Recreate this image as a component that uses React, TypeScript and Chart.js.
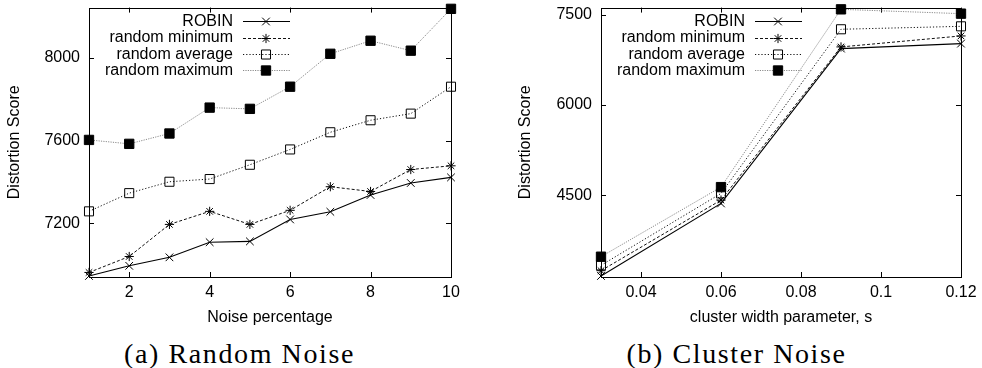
import React, { useEffect, useRef } from 'react';
import { Chart, registerables } from 'chart.js';

Chart.register(...registerables);
Chart.defaults.color = '#000';

// ---------- Data: (a) Random Noise ----------
const noisePct = [1, 2, 3, 4, 5, 6, 7, 8, 9, 10];
const robinA = [6946, 6995, 7036, 7109, 7113, 7219, 7256, 7337, 7395, 7422];
const minA = [6963, 7040, 7195, 7258, 7195, 7263, 7377, 7354, 7460, 7478];
const avgA = [7258, 7346, 7401, 7414, 7483, 7557, 7640, 7698, 7730, 7860];
const maxA = [7603, 7584, 7634, 7759, 7753, 7860, 8019, 8082, 8034, 8236];
const xTicksA = [2, 4, 6, 8, 10];
const yTicksA = [7200, 7600, 8000];

// ---------- Data: (b) Cluster Noise ----------
const clusterWidth = [0.03, 0.06, 0.09, 0.12];
const robinB = [3153, 4361, 6940, 7023];
const minB = [3241, 4417, 6968, 7151];
const avgB = [3330, 4528, 7262, 7311];
const maxB = [3474, 4633, 7594, 7522];
const xTicksB = [0.04, 0.06, 0.08, 0.1, 0.12];
const yTicksB = [4500, 6000, 7500];

const seriesNames = ['ROBIN', 'random minimum', 'random average', 'random maximum'];

const FONT = "'Liberation Sans', Arial, Helvetica, sans-serif";

const styles = [
  { color: '#000', dash: [] as number[], point: 'crossRot', radius: 5.4, fill: 'rgba(0,0,0,0)', pborder: '#000', lw: 1.1 },
  { color: '#111', dash: [3, 2], point: 'star', radius: 4.6, fill: 'rgba(0,0,0,0)', pborder: '#000', lw: 1 },
  { color: '#111', dash: [1.2, 2], point: 'rect', radius: 6.4, fill: 'rgba(0,0,0,0)', pborder: '#000', lw: 1 },
  { color: '#8a8a8a', dash: [1.2, 1.2], point: 'rect', radius: 6.6, fill: '#000', pborder: '#000', lw: 1 },
];

function drawMarker(ctx: CanvasRenderingContext2D, kind: string, x: number, y: number, r: number, fill: string, border: string) {
  ctx.save();
  ctx.setLineDash([]);
  ctx.strokeStyle = border;
  ctx.lineWidth = 1;
  ctx.beginPath();
  if (kind === 'rect') {
    const s = Math.SQRT1_2 * r;
    ctx.rect(x - s, y - s, 2 * s, 2 * s);
    ctx.fillStyle = fill;
    ctx.fill();
    ctx.stroke();
  } else if (kind === 'crossRot') {
    const d = Math.SQRT1_2 * r;
    ctx.moveTo(x - d, y - d); ctx.lineTo(x + d, y + d);
    ctx.moveTo(x - d, y + d); ctx.lineTo(x + d, y - d);
    ctx.stroke();
  } else if (kind === 'star') {
    const d = Math.SQRT1_2 * r;
    ctx.moveTo(x - r, y); ctx.lineTo(x + r, y);
    ctx.moveTo(x, y - r); ctx.lineTo(x, y + r);
    ctx.moveTo(x - d, y - d); ctx.lineTo(x + d, y + d);
    ctx.moveTo(x - d, y + d); ctx.lineTo(x + d, y - d);
    ctx.stroke();
  }
  ctx.restore();
}

const framePlugin = {
  id: 'gnuFrame',
  beforeDatasetsDraw(chart: any) {
    const { ctx, chartArea: a, scales } = chart;
    ctx.save();
    ctx.strokeStyle = '#000';
    ctx.lineWidth = 1;
    ctx.setLineDash([]);
    ctx.strokeRect(Math.round(a.left) + 0.5, Math.round(a.top) + 0.5, Math.round(a.right - a.left), Math.round(a.bottom - a.top));
    const tl = 5;
    ctx.beginPath();
    for (const t of scales.x.ticks) {
      const px = Math.round(scales.x.getPixelForValue(t.value)) + 0.5;
      ctx.moveTo(px, a.bottom); ctx.lineTo(px, a.bottom - tl);
      ctx.moveTo(px, a.top); ctx.lineTo(px, a.top + tl);
    }
    for (const t of scales.y.ticks) {
      const py = Math.round(scales.y.getPixelForValue(t.value)) + 0.5;
      ctx.moveTo(a.left, py); ctx.lineTo(a.left + tl, py);
      ctx.moveTo(a.right, py); ctx.lineTo(a.right - tl, py);
    }
    ctx.stroke();
    ctx.restore();
  },
  afterDatasetsDraw(chart: any) {
    const { ctx, chartArea: a } = chart;
    ctx.save();
    ctx.font = `16px ${FONT}`;
    ctx.fillStyle = '#000';
    ctx.textAlign = 'right';
    ctx.textBaseline = 'middle';
    chart.data.datasets.forEach((ds: any, i: number) => {
      const st = styles[i];
      const y = a.top + 13.8 + i * 16.1;
      ctx.fillText(ds.label, a.left + 144, y + 0.5);
      ctx.save();
      ctx.strokeStyle = st.color;
      ctx.lineWidth = st.lw;
      ctx.setLineDash(st.dash);
      ctx.beginPath();
      ctx.moveTo(a.left + 154, Math.round(y) + 0.5);
      ctx.lineTo(a.left + 201, Math.round(y) + 0.5);
      ctx.stroke();
      ctx.restore();
      drawMarker(ctx, st.point, a.left + 177, Math.round(y) + 0.5, st.radius, st.fill, st.pborder);
    });
    ctx.restore();
  },
};

type PanelProps = {
  xs: number[];
  series: number[][];
  xTicks: number[];
  yTicks: number[];
  xMin: number; xMax: number; yMin: number; yMax: number;
  xTitle: string;
  padLeft: number; yWidth: number; padRight: number;
};

function Panel(p: PanelProps) {
  const ref = useRef<HTMLCanvasElement>(null);
  useEffect(() => {
    if (!ref.current) return;
    const datasets = p.series.map((vals, i) => {
      const st = styles[i];
      return {
        label: seriesNames[i],
        data: p.xs.map((x, j) => ({ x, y: vals[j] })),
        borderColor: st.color,
        borderWidth: st.lw,
        borderDash: st.dash,
        backgroundColor: st.fill,
        pointStyle: st.point,
        pointRadius: st.radius,
        pointHoverRadius: st.radius,
        pointBackgroundColor: st.fill,
        pointBorderColor: st.pborder,
        pointBorderWidth: 1,
        tension: 0,
        fill: false,
        clip: false,
      };
    });
    const chart = new Chart(ref.current, {
      type: 'line',
      data: { datasets: datasets as any },
      options: {
        animation: false,
        responsive: false,
        events: [],
        layout: { padding: { top: 7, right: p.padRight, left: p.padLeft, bottom: 0 } },
        plugins: { legend: { display: false }, tooltip: { enabled: false } },
        scales: {
          x: {
            type: 'linear',
            min: p.xMin,
            max: p.xMax,
            grid: { display: false, drawTicks: false },
            border: { display: false },
            afterBuildTicks: (s: any) => { s.ticks = p.xTicks.map((v) => ({ value: v })); },
            afterFit: (s: any) => { s.height = 54; s.paddingLeft = 0; s.paddingRight = 0; },
            ticks: {
              autoSkip: false,
              maxRotation: 0,
              padding: 6,
              font: { family: FONT, size: 16 },
              callback: (v: any) => String(v),
            },
            title: { display: true, text: p.xTitle, font: { family: FONT, size: 16 }, padding: { top: 0, bottom: 4 } },
          },
          y: {
            type: 'linear',
            min: p.yMin,
            max: p.yMax,
            grid: { display: false, drawTicks: false },
            border: { display: false },
            afterBuildTicks: (s: any) => { s.ticks = p.yTicks.map((v) => ({ value: v })); },
            afterFit: (s: any) => { s.width = p.yWidth; s.paddingTop = 0; s.paddingBottom = 0; },
            ticks: {
              padding: 9,
              font: { family: FONT, size: 16 },
              callback: (v: any) => String(v),
            },
            title: { display: true, text: 'Distortion Score', font: { family: FONT, size: 16 }, padding: { top: 0, bottom: 0 } },
          },
        },
      },
      plugins: [framePlugin],
    });
    return () => chart.destroy();
  }, []);
  return <canvas ref={ref} width={491} height={331} style={{ width: 491, height: 331, display: 'block' }} />;
}

const captionStyle: React.CSSProperties = {
  position: 'absolute',
  top: 340,
  width: 491,
  textAlign: 'center',
  fontFamily: "'Liberation Serif', 'Times New Roman', serif",
  fontSize: 28,
  lineHeight: '28px',
  letterSpacing: 1.6,
  color: '#000',
  whiteSpace: 'nowrap',
};

export default function App() {
  return (
    <div style={{ position: 'absolute', left: 0, top: 0, width: 982, height: 368, background: '#fff', overflow: 'hidden' }}>
      <div style={{ position: 'absolute', left: 0, top: 0 }}>
        <Panel xs={noisePct} series={[robinA, minA, avgA, maxA]} xTicks={xTicksA} yTicks={yTicksA}
          xMin={1} xMax={10} yMin={6941} yMax={8242} xTitle="Noise percentage"
          padLeft={5} yWidth={84} padRight={40} />
      </div>
      <div style={{ position: 'absolute', left: 491, top: 0 }}>
        <Panel xs={clusterWidth} series={[robinB, minB, avgB, maxB]} xTicks={xTicksB} yTicks={yTicksB}
          xMin={0.03} xMax={0.12} yMin={3136} yMax={7623} xTitle="cluster width parameter, s"
          padLeft={25} yWidth={85} padRight={21} />
      </div>
      <div style={{ ...captionStyle, left: -6 }}>(a) Random Noise</div>
      <div style={{ ...captionStyle, left: 491 }}>(b) Cluster Noise</div>
    </div>
  );
}
